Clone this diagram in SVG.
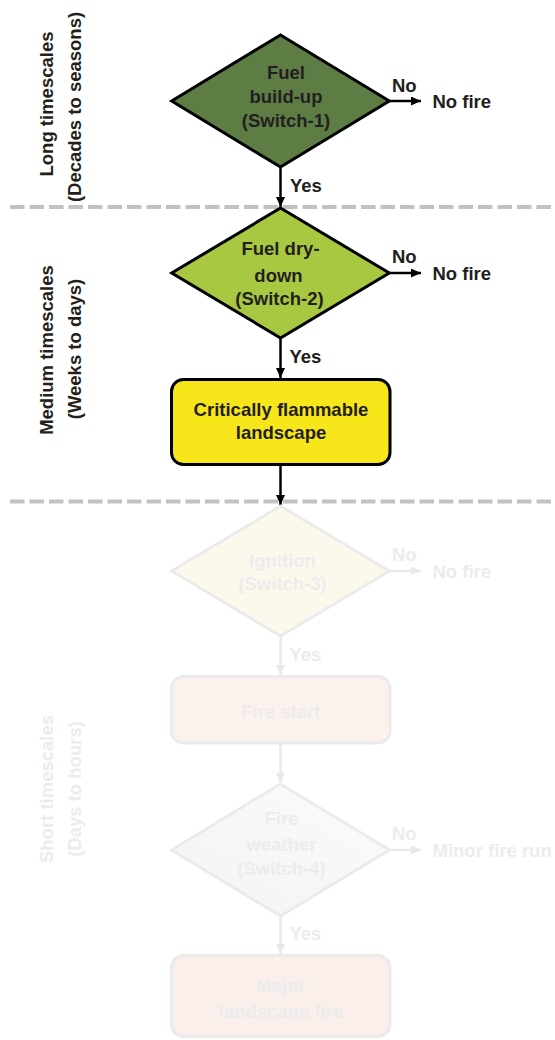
<svg xmlns="http://www.w3.org/2000/svg" width="555" height="1040" viewBox="0 0 555 1040">
<style>
text{font-family:"Liberation Sans",Arial,sans-serif;font-weight:bold;font-size:18.5px;fill:#231f20}
.c{text-anchor:middle}
.sh{stroke:#000;stroke-width:3;stroke-linejoin:miter}
.fs{stroke:#ebebeb;stroke-width:3}
.ft{fill:#ececec}
.dash{stroke:#c2c2c2;stroke-width:4;stroke-dasharray:14.5 5}
.ar{stroke:#000;stroke-width:2.5;fill:none}
.fa{stroke:#e9e9e9;stroke-width:2.5;fill:none}
</style>
<defs>
<marker id="ah" viewBox="0 0 10 9" refX="10" refY="4.5" markerWidth="10" markerHeight="9" markerUnits="userSpaceOnUse" orient="auto"><path d="M0,0 L10,4.5 L0,9 z" fill="#000"/></marker>
<marker id="ahf" viewBox="0 0 10 9" refX="10" refY="4.5" markerWidth="10" markerHeight="9" markerUnits="userSpaceOnUse" orient="auto"><path d="M0,0 L10,4.5 L0,9 z" fill="#e9e9e9"/></marker>
<linearGradient id="g4" x1="0" y1="1" x2="1" y2="0"><stop offset="0" stop-color="#f3f3f3"/><stop offset="1" stop-color="#fbfbfb"/></linearGradient>
</defs>
<g id="separators">
<line class="dash" x1="10" y1="207" x2="555" y2="207"/>
<line class="dash" x1="10" y1="501.5" x2="555" y2="501.5"/>
</g>
<g id="timescale-labels">
<text class="c" transform="translate(53,104) rotate(-90)">Long timescales</text>
<text class="c" transform="translate(81,107) rotate(-90)">(Decades to seasons)</text>
<text class="c" transform="translate(53,350) rotate(-90)">Medium timescales</text>
<text class="c" transform="translate(81,349) rotate(-90)">(Weeks to days)</text>
<text class="c ft" transform="translate(53,789) rotate(-90)">Short timescales</text>
<text class="c ft" transform="translate(81,789) rotate(-90)">(Days to hours)</text>
</g>
<g id="connectors">
<line class="ar" x1="280.5" y1="167" x2="280.5" y2="207" marker-end="url(#ah)"/>
<line class="ar" x1="389" y1="101" x2="421" y2="101" marker-end="url(#ah)"/>
<line class="ar" x1="280.5" y1="338" x2="280.5" y2="378" marker-end="url(#ah)"/>
<line class="ar" x1="389" y1="273" x2="421" y2="273" marker-end="url(#ah)"/>
<line class="ar" x1="280.5" y1="465" x2="280.5" y2="505" marker-end="url(#ah)"/>
<line class="fa" x1="389" y1="571" x2="421" y2="571" marker-end="url(#ahf)"/>
<line class="fa" x1="280.5" y1="636" x2="280.5" y2="675" marker-end="url(#ahf)"/>
<line class="fa" x1="280.5" y1="744" x2="280.5" y2="783" marker-end="url(#ahf)"/>
<line class="fa" x1="389" y1="850" x2="421" y2="850" marker-end="url(#ahf)"/>
<line class="fa" x1="280.5" y1="916" x2="280.5" y2="954" marker-end="url(#ahf)"/>
<text x="392" y="92">No</text>
<text x="432.5" y="108">No fire</text>
<text x="290" y="192">Yes</text>
<text x="392" y="263">No</text>
<text x="432.5" y="280">No fire</text>
<text x="289.5" y="363">Yes</text>
<text class="ft" x="392" y="561">No</text>
<text class="ft" x="432.5" y="578">No fire</text>
<text class="ft" x="289.5" y="661">Yes</text>
<text class="ft" x="392" y="840">No</text>
<text class="ft" x="432.5" y="857">Minor fire run</text>
<text class="ft" x="289.5" y="940">Yes</text>
</g>
<g id="switch1">
<polygon class="sh" points="280.5,35 389.3,101 280.5,167 171.7,101" fill="#5e7d45"/>
<text class="c" x="286" y="78.5">Fuel</text>
<text class="c" x="286" y="103">build-up</text>
<text class="c" x="286" y="127">(Switch-1)</text>
</g>
<g id="switch2">
<polygon class="sh" points="280.5,208 389.3,273 280.5,338 171.7,273" fill="#a9c842"/>
<text class="c" x="280.5" y="255">Fuel dry-</text>
<text class="c" x="278.5" y="281.5">down</text>
<text class="c" x="279.5" y="305">(Switch-2)</text>
</g>
<g id="critically-flammable">
<rect class="sh" x="171.5" y="379.5" width="218.5" height="85" rx="12" fill="#f7e61a"/>
<text class="c" x="281" y="416">Critically flammable</text>
<text class="c" x="281" y="438.5">landscape</text>
</g>
<g id="switch3">
<polygon class="fs" points="280.5,506 389.3,571 280.5,636 171.7,571" fill="#fdf8ec"/>
<text class="c ft" x="282.5" y="566.5">Ignition</text>
<text class="c ft" x="282.5" y="590">(Switch-3)</text>
</g>
<g id="fire-start">
<rect class="fs" x="171.5" y="676.5" width="218.5" height="66.5" rx="12" fill="#fcf2ed"/>
<text class="c ft" x="280.7" y="718">Fire start</text>
</g>
<g id="switch4">
<polygon class="fs" points="280.5,784 389.3,850 280.5,916 171.7,850" fill="url(#g4)"/>
<text class="c ft" x="281.5" y="825">Fire</text>
<text class="c ft" x="281.5" y="851">weather</text>
<text class="c ft" x="281.5" y="875">(Switch-4)</text>
</g>
<g id="major-fire">
<rect class="fs" x="171.5" y="955.5" width="218.5" height="81" rx="12" fill="#fbefec"/>
<text class="c ft" x="281" y="992">Major</text>
<text class="c ft" x="281" y="1018">landscape fire</text>
</g>
</svg>
